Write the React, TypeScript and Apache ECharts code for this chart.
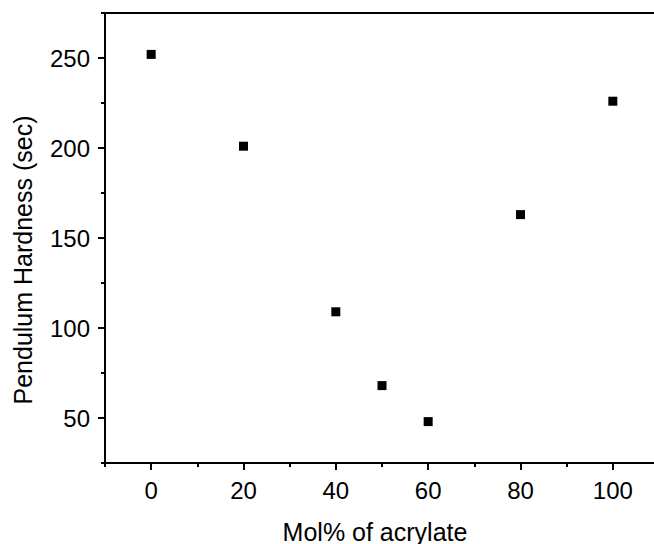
import React, { useEffect, useRef } from "react";
import * as echarts from "echarts";

const xValues = [0, 20, 40, 50, 60, 80, 100];
const yValues = [252, 201, 109, 68, 48, 163, 226];
const xMajorTicks = [0, 20, 40, 60, 80, 100];
const xMinorTicks = [-10, 10, 30, 50, 70, 90, 110];
const yMajorTicks = [50, 100, 150, 200, 250];
const yMinorTicks = [25, 75, 125, 175, 225, 275];
const xName = "Mol% of acrylate";
const yName = "Pendulum Hardness (sec)";

const FONT = 'Arial, "Liberation Sans", sans-serif';
const BLACK = "#000";

export default function App() {
  const ref = useRef<HTMLDivElement>(null);
  useEffect(() => {
    if (!ref.current) return;
    document.body.style.margin = "0";
    document.body.style.overflow = "hidden";
    const chart = echarts.init(ref.current, undefined, { renderer: "svg" });
    const line = { show: true, onZero: false, lineStyle: { color: BLACK, width: 2 } };
    const noLine = { show: false, onZero: false };
    const xBase = { type: "value", min: -10, max: 110, gridIndex: 0, splitLine: { show: false } };
    const yBase = { type: "value", min: 25, max: 275, gridIndex: 0, splitLine: { show: false } };
    chart.setOption({
      animation: false,
      backgroundColor: "#fff",
      grid: { left: 105, top: 13, width: 554, height: 450, containLabel: false, outerBoundsMode: "none" },
      xAxis: [
        {
          ...xBase,
          position: "bottom",
          axisLine: line,
          axisTick: { show: true, inside: false, length: 7, customValues: xMajorTicks, lineStyle: { color: BLACK, width: 2 } },
          axisLabel: { show: true, customValues: xMajorTicks, margin: 15, fontSize: 24, color: BLACK, fontFamily: FONT },
          name: xName,
          nameLocation: "middle",
          nameGap: 56,
          nameTextStyle: { fontSize: 25, color: BLACK, fontFamily: FONT, padding: [0, 14, 0, 0] },
        },
        {
          ...xBase,
          position: "bottom",
          axisLine: noLine,
          axisTick: { show: true, inside: false, length: 4, customValues: xMinorTicks, lineStyle: { color: BLACK, width: 2 } },
          axisLabel: { show: false },
        },
        {
          ...xBase,
          position: "top",
          axisLine: line,
          axisTick: { show: false },
          axisLabel: { show: false },
        },
      ],
      yAxis: [
        {
          ...yBase,
          position: "left",
          axisLine: line,
          axisTick: { show: true, inside: false, length: 7, customValues: yMajorTicks, lineStyle: { color: BLACK, width: 2 } },
          axisLabel: { show: true, customValues: yMajorTicks, margin: 15, fontSize: 24, color: BLACK, fontFamily: FONT },
          name: yName,
          nameLocation: "middle",
          nameGap: 70,
          nameTextStyle: { fontSize: 25, color: BLACK, fontFamily: FONT, padding: [0, 44, 0, 0] },
        },
        {
          ...yBase,
          position: "left",
          axisLine: noLine,
          axisTick: { show: true, inside: false, length: 4, customValues: yMinorTicks, lineStyle: { color: BLACK, width: 2 } },
          axisLabel: { show: false },
        },
        {
          ...yBase,
          position: "right",
          axisLine: line,
          axisTick: { show: false },
          axisLabel: { show: false },
        },
      ],
      series: [
        {
          type: "scatter",
          xAxisIndex: 0,
          yAxisIndex: 0,
          symbol: "rect",
          symbolSize: 9,
          itemStyle: { color: BLACK, opacity: 1 },
          data: xValues.map((x, i) => [x, yValues[i]]),
        },
      ],
    });
    return () => chart.dispose();
  }, []);
  return (
    <div style={{ position: "absolute", left: 0, top: 0, width: 654, height: 544, overflow: "hidden", background: "#fff" }}>
      <div ref={ref} style={{ width: 670, height: 544 }} />
    </div>
  );
}
